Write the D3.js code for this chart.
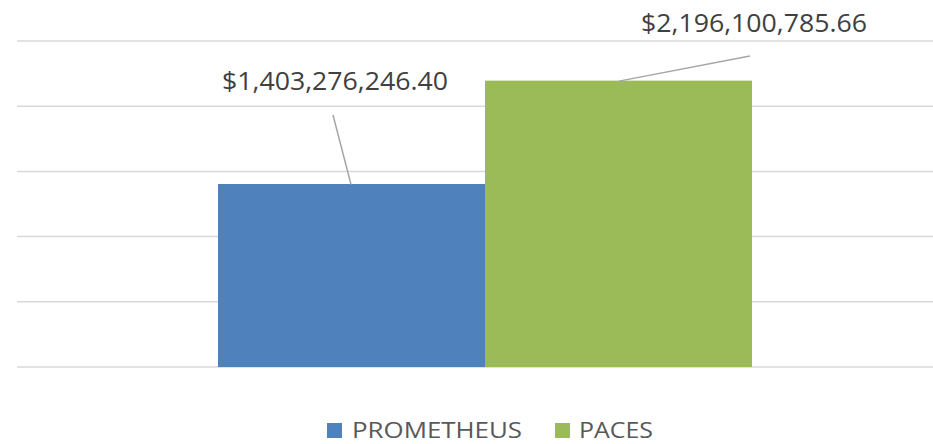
<!DOCTYPE html>
<html>
<head>
<meta charset="utf-8">
<script src="https://cdnjs.cloudflare.com/ajax/libs/d3/7.8.5/d3.min.js"></script>
<style>
  body { margin: 0; background: #fff; }
  svg { display: block; }
</style>
</head>
<body>
<div id="chart"></div>
<script>
var categories = ["PROMETHEUS", "PACES"];
var values = [1403276246.40, 2196100785.66];
var valueLabels = ["$1,403,276,246.40", "$2,196,100,785.66"];
var colors = ["#4F81BD", "#9BBB59"];
var gridTicks = [0, 500000000, 1000000000, 1500000000, 2000000000, 2500000000];

var width = 933, height = 444;

var svg = d3.select("#chart").append("svg")
    .attr("width", width)
    .attr("height", height);

var x = d3.scaleBand()
    .domain(categories)
    .range([218, 752])
    .padding(0);

var y = d3.scaleLinear()
    .domain([0, 2500000000])
    .range([367, 41]);

// gridlines
svg.selectAll("line.grid")
    .data(gridTicks).enter()
    .append("line")
    .attr("class", "grid")
    .attr("x1", 17)
    .attr("x2", width)
    .attr("y1", function(d){ return y(d); })
    .attr("y2", function(d){ return y(d); })
    .style("stroke", "#d9d9d9")
    .style("stroke-width", 1.5);

// bars
svg.selectAll("rect.bar")
    .data(values).enter()
    .append("rect")
    .attr("class", "bar")
    .attr("x", function(d, i){ return x(categories[i]); })
    .attr("y", function(d){ return y(d); })
    .attr("width", x.bandwidth())
    .attr("height", function(d){ return y(0) - y(d); })
    .style("fill", function(d, i){ return colors[i]; });

// data labels with leader lines
var labelPos = [
    { tx: 335, ty: 90, lx1: 333, ly1: 115, lx2: 351 },
    { tx: 754, ty: 32, lx1: 750, ly1: 56, lx2: 619 }
];

svg.selectAll("line.leader")
    .data(values).enter()
    .append("line")
    .attr("class", "leader")
    .attr("x1", function(d, i){ return labelPos[i].lx1; })
    .attr("y1", function(d, i){ return labelPos[i].ly1; })
    .attr("x2", function(d, i){ return labelPos[i].lx2; })
    .attr("y2", function(d){ return y(d) + 0.5; })
    .style("stroke", "#a6a6a6")
    .style("stroke-width", 1.5);

svg.selectAll("text.value")
    .data(valueLabels).enter()
    .append("text")
    .attr("class", "value")
    .attr("x", function(d, i){ return labelPos[i].tx; })
    .attr("y", function(d, i){ return labelPos[i].ty; })
    .attr("text-anchor", "middle")
    .attr("textLength", 226)
    .attr("lengthAdjust", "spacingAndGlyphs")
    .text(function(d){ return d; })
    .attr("font-family", "'Open Sans', sans-serif")
    .attr("font-size", "25px")
    .style("fill", "#404040");

// legend
var legendItems = [
    { sx: 327, tx: 352, tw: 170 },
    { sx: 555, tx: 579, tw: 74 }
];

svg.selectAll("rect.legend")
    .data(categories).enter()
    .append("rect")
    .attr("class", "legend")
    .attr("x", function(d, i){ return legendItems[i].sx; })
    .attr("y", 423)
    .attr("width", 15)
    .attr("height", 15)
    .style("fill", function(d, i){ return colors[i]; });

svg.selectAll("text.legend")
    .data(categories).enter()
    .append("text")
    .attr("class", "legend")
    .attr("x", function(d, i){ return legendItems[i].tx; })
    .attr("y", 438)
    .attr("textLength", function(d, i){ return legendItems[i].tw; })
    .attr("lengthAdjust", "spacingAndGlyphs")
    .text(function(d){ return d; })
    .attr("font-family", "'Open Sans', sans-serif")
    .attr("font-size", "21px")
    .style("fill", "#595959");
</script>
</body>
</html>
